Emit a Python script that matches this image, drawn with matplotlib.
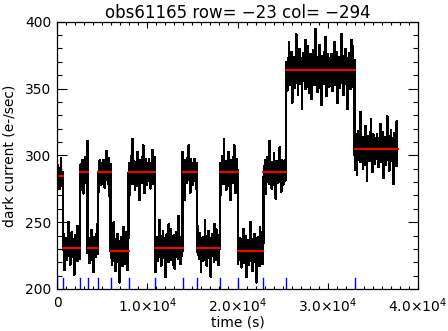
import matplotlib
matplotlib.use('Agg')
import matplotlib.pyplot as plt
from matplotlib.ticker import MultipleLocator, FixedLocator, FixedFormatter
import numpy as np

# segment start times (s) and median dark current (e-/sec)
seg_start = [0, 700, 2580, 3400, 4510, 5950, 7940, 10830, 13930, 15550,
             18090, 20020, 22860, 25370, 32990]
seg_level = [284.5, 231.0, 287.3, 231.0, 287.3, 228.2, 287.3, 231.0, 287.3, 231.0,
             287.3, 228.2, 287.3, 363.5, 304.7]
seg_spread = [6.5, 7.0, 7.5, 7.0, 7.5, 8.0, 8.0, 7.5, 8.0, 7.5,
              8.0, 8.0, 7.5, 10.0, 9.0]
t_end = 37750
dt = 50

# deviations (in units of spread)
noise = [0.3, -0.8, 1.2, -0.2, 0.6, -1.5, 0.1, 0.9, -0.4, 2.1,
         -0.7, 0.2, -1.1, 0.5, 1.4, -0.3, -2.4, 0.8, 0.0, -0.6,
         1.0, -1.3, 0.4, 0.7, -0.9, 2.7, -0.1, -0.5, 1.1, -1.8,
         0.6, 0.2, -0.7, 1.6, -0.2, -1.0, 0.3, 0.9, -2.9, 0.5,
         -0.4, 1.3, 0.1, -0.8, 0.7, -1.4, 2.3, -0.3, 0.4, -0.6,
         1.8, -1.2, 0.0, 0.8, -0.5, -1.7, 0.6, 1.2, -0.1, -2.1,
         0.9, 0.3, -0.9, 1.5, -0.4, 0.2, -1.1, 3.1, -0.6, 0.5,
         -0.2, 1.0, -1.6, 0.4, 0.7, -0.8, -0.3, 1.9, -1.3, 0.1,
         0.6, -2.6, 1.1, -0.5, 0.3, 0.8, -1.0, -0.2, 1.4, -0.7,
         2.5, -0.4, 0.0, -1.9, 0.7, 1.2, -0.6, 0.2, -1.2, 0.9, -0.1]

xtick_vals = [0, 10000, 20000, 30000, 40000]
xtick_labels = ['0', r'1.0$\times$10$^{4}$', r'2.0$\times$10$^{4}$',
                r'3.0$\times$10$^{4}$', r'4.0$\times$10$^{4}$']

t = np.arange(0, t_end, dt)
idx = np.searchsorted(seg_start, t, side='right') - 1
lev = np.array(seg_level)[idx]
spr = np.array(seg_spread)[idx]
nz = np.array(noise)[np.arange(len(t)) % len(noise)]
y = lev + spr * nz

fig = plt.figure(figsize=(4.48, 3.31), dpi=100)
ax = fig.add_axes([57/448, 42/331, 361/448, 267.3/331])
ax.plot(t, y, color='black', lw=1.0, drawstyle='steps-mid', antialiased=False)

ends = seg_start[1:] + [t_end]
for s, e, l in zip(seg_start, ends, seg_level):
    ax.plot([s, e], [l, l], color='red', lw=1.4)
for s in seg_start:
    ax.plot([s, s], [200, 208], color='blue', lw=1.0)

ax.set_xlim(0, 40000)
ax.set_ylim(200, 400)
ax.xaxis.set_major_locator(FixedLocator(xtick_vals))
ax.xaxis.set_major_formatter(FixedFormatter(xtick_labels))
ax.xaxis.set_minor_locator(MultipleLocator(1000))
ax.yaxis.set_major_locator(MultipleLocator(50))
ax.yaxis.set_minor_locator(MultipleLocator(10))
ax.tick_params(axis='both', which='both', direction='in', top=True, right=True,
               labelsize=10, width=0.8, colors='black')
ax.tick_params(axis='x', which='major', length=4, pad=5)
ax.tick_params(axis='x', which='minor', length=2)
ax.tick_params(axis='y', which='major', length=7, pad=4)
ax.tick_params(axis='y', which='minor', length=3.5)
for sp in ax.spines.values():
    sp.set_linewidth(0.9)

ax.set_xlabel('time (s)', fontsize=10, labelpad=1)
ax.set_ylabel('dark current (e-/sec)', fontsize=10, labelpad=6)
ax.set_title('obs61165 row= \u221223 col= \u2212294', fontsize=12, pad=3)

fig.savefig('out.png', dpi=100, facecolor='white')
